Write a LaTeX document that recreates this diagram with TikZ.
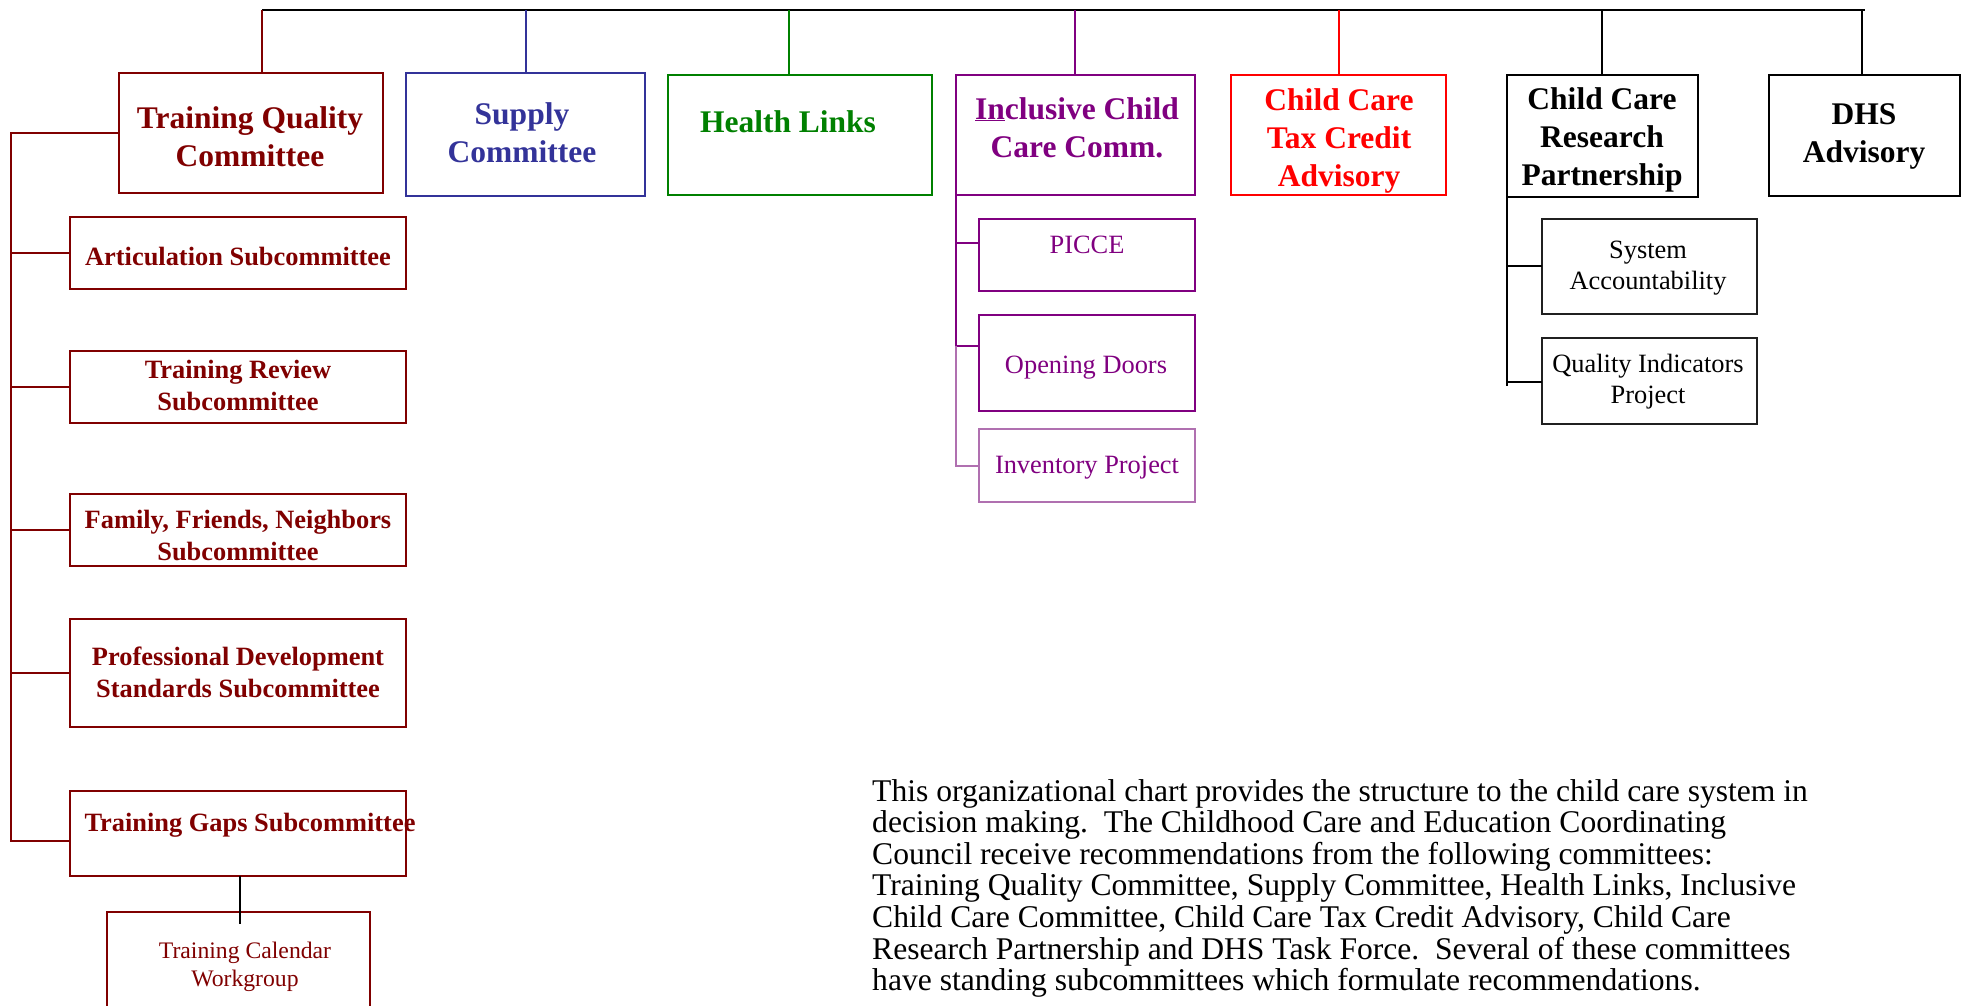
\documentclass[tikz,border=0pt]{standalone}
\usepackage{fontspec}
\setmainfont{Liberation Serif}
\usetikzlibrary{fit}
\definecolor{dred}{HTML}{800000}
\definecolor{sblue}{HTML}{333399}
\definecolor{hgreen}{HTML}{008000}
\definecolor{ipurp}{HTML}{800080}
\definecolor{lpurp}{HTML}{B070B0}
\definecolor{cred}{HTML}{FF0000}
\definecolor{gblack}{HTML}{202020}
\newcommand\mlc[1]{\vtop{\halign{\hfil##\hfil\cr#1\crcr}}}
\newcommand\mll[1]{\vtop{\halign{##\hfil\cr#1\crcr}}}
\tikzset{
  box/.style={draw, line width=2pt, inner sep=0pt, outer sep=0pt},
  thinbox/.style={draw, line width=1.3pt, inner sep=0pt, outer sep=0pt},
  tbig/.style={font=\fontsize{31.5}{38}\selectfont\bfseries, inner sep=0pt, anchor=base},
  tsub/.style={font=\fontsize{26.4}{32}\selectfont\bfseries, inner sep=0pt, anchor=base},
  treg/.style={font=\fontsize{26.4}{31}\selectfont, inner sep=0pt, anchor=base},
  tsmall/.style={font=\fontsize{23.7}{28}\selectfont, inner sep=0pt, anchor=base},
  para/.style={font=\fontsize{31.6}{31.6}\selectfont\frenchspacing, inner sep=0pt, anchor=base west},
  conn/.style={line width=2pt},
  thinconn/.style={line width=1.2pt},
}
\begin{document}
\begin{tikzpicture}[x=1pt,y=-1pt]
\path[use as bounding box] (0,0) rectangle (1967,1005);
\clip (0,0) rectangle (1967,1005);

% top bus
\coordinate (busL) at (262,10);
\coordinate (busR) at (1865,10);
\coordinate (d1) at (262,10);
\coordinate (d2) at (526,10);
\coordinate (d3) at (789,10);
\coordinate (d4) at (1075,10);
\coordinate (d5) at (1339,10);
\coordinate (d6) at (1602,10);
\coordinate (d7) at (1862,10);

% main committee boxes
\node[box, dred,   fit={(119,73) (383,193)}]  (tqc) {};
\node[box, sblue,  fit={(406,73) (645,196)}]  (sup) {};
\node[box, hgreen, fit={(668,75) (932,195)}]  (hl) {};
\node[box, ipurp,  fit={(956,75) (1195,195)}] (inc) {};
\node[box, cred,   fit={(1231,75) (1446,195)}] (cctc) {};
\node[box, black,  fit={(1507,75) (1698,197)}] (ccrp) {};
\node[box, black,  fit={(1769,75) (1960,196)}] (dhs) {};

\node[tbig, dred]   (tqc-t)  at (250,128)  {\mlc{Training Quality\cr Committee}};
\node[tbig, sblue]  (sup-t)  at (522,124)  {\mlc{Supply\cr Committee}};
\node[tbig, hgreen] (hl-t)   at (788,132)  {Health Links};
\node[tbig, ipurp]  (inc-t)  at (1077,119) {\mlc{\underline{In}clusive Child\cr Care Comm.}};
\node[tbig, cred]   (cctc-t) at (1339,110) {\mlc{Child Care\cr Tax Credit\cr Advisory}};
\node[tbig, black]  (ccrp-t) at (1602,109) {\mlc{Child Care\cr Research\cr Partnership}};
\node[tbig, black]  (dhs-t)  at (1864,124) {\mlc{DHS\cr Advisory}};

% bus and drops
\draw[line width=2.5pt] (busL) -- (busR);
\draw[conn, dred]   (d1) -- (d1 |- tqc.north);
\draw[thinconn, sblue] (d2) -- (d2 |- sup.north);
\draw[line width=1.6pt, hgreen] (d3) -- (d3 |- hl.north);
\draw[line width=1.6pt, ipurp]  (d4) -- (d4 |- inc.north);
\draw[line width=1.6pt, cred]   (d5) -- (d5 |- cctc.north);
\draw[line width=1.6pt, black]  (d6) -- (d6 |- ccrp.north);
\draw[thinconn, black]  (d7) -- (d7 |- dhs.north);

% Training Quality subcommittees
\node[box, dred, fit={(70,217) (406,289)}] (art) {};
\node[box, dred, fit={(70,351) (406,423)}] (trv) {};
\node[box, dred, fit={(70,494) (406,566)}] (ffn) {};
\node[box, dred, fit={(70,619) (406,727)}] (pds) {};
\node[box, dred, fit={(70,791) (406,876)}] (tgs) {};
\node[box, dred, fit={(107,912) (370,1015)}] (tcw) {};

\node[tsub, dred] (art-t) at (238,265) {Articulation Subcommittee};
\node[tsub, dred] (trv-t) at (238,378) {\mlc{Training Review\cr Subcommittee}};
\node[tsub, dred] (ffn-t) at (238,528) {\mlc{Family, Friends, Neighbors\cr Subcommittee}};
\node[tsub, dred] (pds-t) at (238,665) {\mlc{Professional Development\cr Standards Subcommittee}};
\node[tsub, dred] (tgs-t) at (250,831) {Training Gaps Subcommittee};
\node[tsmall, dred] (tcw-t) at (245,958) {\mlc{Training Calendar\cr Workgroup}};

\coordinate (ltop) at (11,133);
\coordinate (lbot) at (11,841);
\draw[conn, dred] (tqc.west) -- (ltop) -- (lbot) -- (lbot -| tgs.west);
\draw[conn, dred] (art.west) -- (art.west -| ltop);
\draw[conn, dred] (trv.west) -- (trv.west -| ltop);
\draw[conn, dred] (ffn.west) -- (ffn.west -| ltop);
\draw[conn, dred] (pds.west) -- (pds.west -| ltop);
\coordinate (tgdrop) at (240,924);
\draw[thinconn, black] (tgdrop |- tgs.south) -- (tgdrop);

% Inclusive subtree
\node[box, ipurp, fit={(979,219) (1195,291)}] (picce) {};
\node[box, ipurp, fit={(979,315) (1195,411)}] (odoor) {};
\node[thinbox, lpurp, fit={(979,429) (1195,502)}] (inv) {};
\node[treg, ipurp] (picce-t) at (1087,253) {PICCE};
\node[treg, ipurp] (odoor-t) at (1086,373) {Opening Doors};
\node[treg, ipurp] (inv-t)   at (1087,473) {Inventory Project};

\coordinate (iv1) at (956,243);
\coordinate (iv2) at (956,346);
\coordinate (iv3) at (956,466);
\draw[conn, ipurp] (inc.south west) -- (iv2);
\draw[conn, ipurp] (iv1) -- (iv1 -| picce.west);
\draw[conn, ipurp] (iv2) -- (iv2 -| odoor.west);
\draw[thinconn, lpurp] (iv2) -- (iv3) -- (iv3 -| inv.west);

% Research partnership subtree
\node[thinbox, gblack, line width=1.6pt, fit={(1542,219) (1757,314)}] (sysacc) {};
\node[thinbox, gblack, line width=1.6pt, fit={(1542,338) (1757,424)}] (qip) {};
\node[treg, black] (sysacc-t) at (1648,258) {\mlc{System\cr Accountability}};
\node[treg, black] (qip-t)    at (1648,372) {\mlc{Quality Indicators\cr Project}};

\coordinate (rv1) at (1507,266);
\coordinate (rv2) at (1507,382);
\coordinate (rv3) at (1507,386);
\draw[thinconn, black] (ccrp.south west) -- (rv3);
\draw[thinconn, black] (rv1) -- (rv1 -| sysacc.west);
\draw[thinconn, black] (rv2) -- (rv2 -| qip.west);

% note
\node[para, black] (note) at (872,801) {\mll{This organizational chart provides the structure to the child care system in\cr
decision making.~ The Childhood Care and Education Coordinating\cr
Council receive recommendations from the following committees:\cr
Training Quality Committee, Supply Committee, Health Links, Inclusive\cr
Child Care Committee, Child Care Tax Credit Advisory, Child Care\cr
Research Partnership and DHS Task Force.~ Several of these committees\cr
have standing subcommittees which formulate recommendations.}};
\end{tikzpicture}
\end{document}
